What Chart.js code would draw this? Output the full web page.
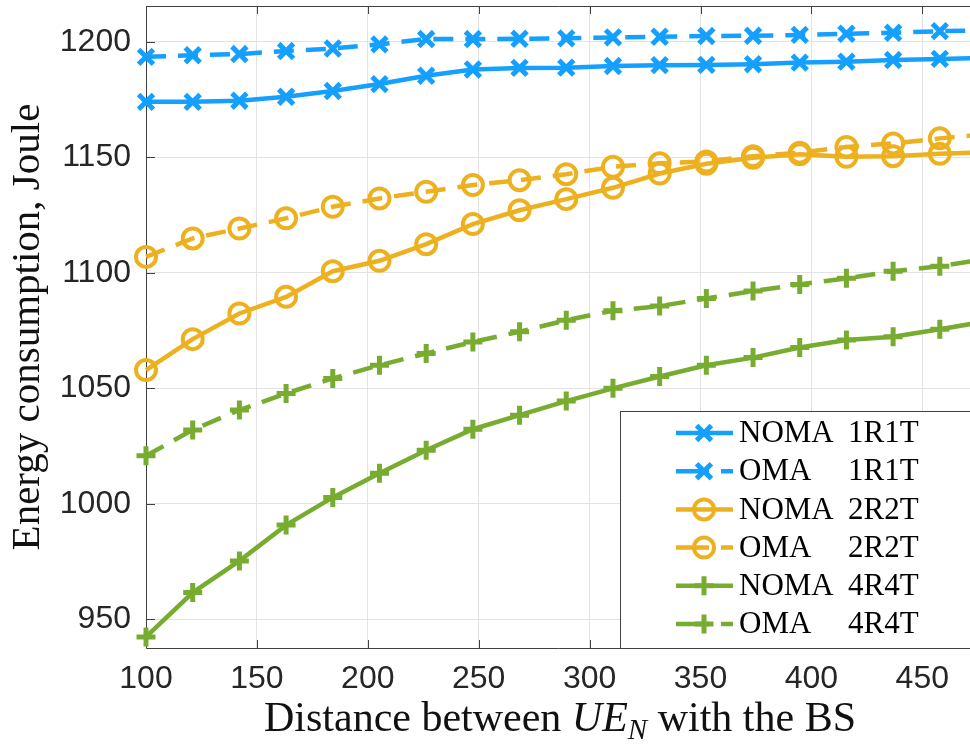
<!DOCTYPE html>
<html>
<head>
<meta charset="utf-8">
<script src="https://cdn.jsdelivr.net/npm/chart.js@4.4.1/dist/chart.umd.min.js"></script>
<style>
  html, body { margin: 0; padding: 0; background: #fff; }
  #wrap { width: 970px; height: 744px; }
</style>
</head>
<body>
<div id="wrap"><canvas id="chart" width="970" height="744"></canvas></div>
<script>
// DATA
const distances = [100, 121.05, 142.11, 163.16, 184.21, 205.26, 226.32, 247.37, 268.42, 289.47,
  310.53, 331.58, 352.63, 373.68, 394.74, 415.79, 436.84, 457.89, 478.95];
const noma1R1T = [1174.0, 1174.0, 1174.5, 1176.2, 1178.7, 1181.7, 1185.3, 1188.0, 1188.7, 1188.8,
  1189.5, 1189.9, 1190.0, 1190.3, 1191.0, 1191.4, 1192.1, 1192.6, 1193.0];
const oma1R1T = [1193.5, 1194.2, 1194.7, 1196.0, 1197.1, 1198.9, 1201.2, 1201.2, 1201.3, 1201.5,
  1201.9, 1202.2, 1202.5, 1202.6, 1203.0, 1203.5, 1203.9, 1204.6, 1205.0];
const noma2R2T = [1057.9, 1071.3, 1082.4, 1089.6, 1100.7, 1105.2, 1112.4, 1121.1, 1127.1, 1131.9,
  1136.8, 1143.0, 1147.2, 1149.8, 1151.3, 1150.2, 1150.5, 1151.5, 1152.2];
const oma2R2T = [1106.9, 1114.9, 1119.2, 1123.6, 1128.6, 1132.2, 1135.1, 1138.0, 1140.1, 1142.7,
  1145.9, 1147.4, 1148.2, 1150.5, 1152.0, 1154.5, 1156.0, 1158.2, 1160.0];
const noma4R4T = [942.4, 961.6, 975.3, 990.8, 1002.8, 1013.2, 1023.2, 1032.3, 1038.4, 1044.5,
  1050.0, 1055.1, 1060.0, 1063.3, 1067.7, 1070.9, 1072.3, 1075.6, 1079.0];
const oma4R4T = [1020.8, 1032.0, 1040.6, 1047.8, 1054.3, 1060.0, 1065.1, 1070.1, 1074.5, 1079.5,
  1083.6, 1085.6, 1088.9, 1092.1, 1095.0, 1097.6, 1100.7, 1102.9, 1106.0];

const seriesLabels = ['NOMA 1R1T', 'OMA   1R1T', 'NOMA 2R2T', 'OMA   2R2T', 'NOMA 4R4T', 'OMA   4R4T'];
const xTickValues = [100, 150, 200, 250, 300, 350, 400, 450];
const yTickValues = [950, 1000, 1050, 1100, 1150, 1200];
const xLimits = [100, 471.5];
const yLimits = [937.6, 1215.5];

// STYLE
const BLUE = '#159ffe';
const ORANGE = '#edb120';
const GREEN = '#77ac30';
const AXIS = '#404040';
const DASH = [20, 12];
const SERIF = '"Liberation Serif", "Times New Roman", serif';
const NO_PAD = () => ({ left: 0, top: 0, right: 0, bottom: 0 });

function makeSet(label, values, color, marker, dashed) {
  const radius = marker === 'circle' ? 10 : (marker === 'crossRot' ? 10.5 : 9.5);
  return {
    label: label,
    data: distances.map((x, i) => ({ x: x, y: values[i] })),
    borderColor: color,
    backgroundColor: 'rgba(0,0,0,0)',
    borderWidth: 4.5,
    borderDash: dashed ? DASH : [],
    pointStyle: marker,
    pointRadius: radius,
    pointBorderWidth: marker === 'circle' ? 4 : 5,
    pointBorderColor: color,
    pointBackgroundColor: 'rgba(0,0,0,0)',
    tension: 0,
    clip: false,
    _marker: marker,
    _dashed: dashed
  };
}

const datasets = [
  makeSet(seriesLabels[0], noma1R1T, BLUE, 'crossRot', false),
  makeSet(seriesLabels[1], oma1R1T, BLUE, 'crossRot', true),
  makeSet(seriesLabels[2], noma2R2T, ORANGE, 'circle', false),
  makeSet(seriesLabels[3], oma2R2T, ORANGE, 'circle', true),
  makeSet(seriesLabels[4], noma4R4T, GREEN, 'cross', false),
  makeSet(seriesLabels[5], oma4R4T, GREEN, 'cross', true)
];

// BOX, INWARD TICKS, AXIS TITLES, LEGEND
const decorPlugin = {
  id: 'decor',
  beforeDatasetsDraw(chart) {
    const ctx = chart.ctx;
    const a = chart.chartArea;
    const xs = chart.scales.x;
    const ys = chart.scales.y;
    ctx.save();
    ctx.strokeStyle = AXIS;
    ctx.lineWidth = 1;
    ctx.beginPath();
    ctx.moveTo(a.left + 0.5, a.top + 0.5);
    ctx.lineTo(a.right, a.top + 0.5);
    ctx.moveTo(a.left + 0.5, a.top);
    ctx.lineTo(a.left + 0.5, a.bottom + 0.5);
    ctx.lineTo(a.right, a.bottom + 0.5);
    xTickValues.forEach(v => {
      const px = Math.round(xs.getPixelForValue(v)) + 0.5;
      ctx.moveTo(px, a.bottom);
      ctx.lineTo(px, a.bottom - 8);
      ctx.moveTo(px, a.top);
      ctx.lineTo(px, a.top + 8);
    });
    yTickValues.forEach(v => {
      const py = Math.round(ys.getPixelForValue(v)) + 0.5;
      ctx.moveTo(a.left, py);
      ctx.lineTo(a.left + 9, py);
    });
    ctx.stroke();
    ctx.restore();
  },
  afterDraw(chart) {
    const ctx = chart.ctx;
    const a = chart.chartArea;
    ctx.save();

    // y title
    ctx.fillStyle = '#111';
    ctx.font = '41px ' + SERIF;
    ctx.textAlign = 'center';
    ctx.textBaseline = 'middle';
    ctx.translate(28, (a.top + a.bottom) / 2);
    ctx.rotate(-Math.PI / 2);
    ctx.fillText('Energy consumption, Joule', 0, 0);
    ctx.setTransform(1, 0, 0, 1, 0, 0);

    // x title with UE_N
    const parts = [
      { t: 'Distance between ', f: '42px ' + SERIF, dy: 0 },
      { t: 'UE', f: 'italic 42px ' + SERIF, dy: 0 },
      { t: 'N', f: 'italic 29px ' + SERIF, dy: 8 },
      { t: ' with the BS', f: '42px ' + SERIF, dy: 0 }
    ];
    let total = 0;
    parts.forEach(p => { ctx.font = p.f; p.w = ctx.measureText(p.t).width; total += p.w; });
    let cx = 560 - total / 2;
    ctx.textAlign = 'left';
    ctx.textBaseline = 'alphabetic';
    parts.forEach(p => {
      ctx.font = p.f;
      ctx.fillText(p.t, cx, 731 + p.dy);
      cx += p.w;
    });

    // legend
    const boxL = 620.5, boxT = 411.5;
    ctx.fillStyle = '#fff';
    ctx.fillRect(boxL, boxT, chart.width - boxL + 5, a.bottom - boxT);
    ctx.strokeStyle = AXIS;
    ctx.lineWidth = 1;
    ctx.strokeRect(boxL, boxT, chart.width - boxL + 5, a.bottom + 0.5 - boxT);

    chart.data.datasets.forEach((ds, i) => {
      const y = 433 + i * 38.2;
      ctx.strokeStyle = ds.borderColor;
      ctx.lineWidth = ds.borderWidth;
      ctx.setLineDash(ds._dashed ? [33, 12] : []);
      ctx.beginPath();
      ctx.moveTo(676, y);
      ctx.lineTo(733, y);
      ctx.stroke();
      ctx.setLineDash([]);
      ctx.fillStyle = 'rgba(0,0,0,0)';
      ctx.lineWidth = ds.pointBorderWidth;
      Chart.helpers.drawPoint(ctx, {
        pointStyle: ds._marker,
        radius: ds.pointRadius,
        rotation: 0,
        borderWidth: ds.pointBorderWidth
      }, 704, y);
      ctx.fillStyle = '#000';
      ctx.font = '31px ' + SERIF;
      ctx.textBaseline = 'middle';
      const words = ds.label.split(/\s+/);
      ctx.fillText(words[0], 739, y + 1);
      ctx.fillText(words[1], 848, y + 1);
    });
    ctx.restore();
  }
};

// CHART
const chart = new Chart(document.getElementById('chart'), {
  type: 'scatter',
  data: { datasets: datasets },
  plugins: [decorPlugin],
  options: {
    responsive: false,
    animation: false,
    showLine: true,
    layout: { autoPadding: false, padding: { top: 6, right: 0, left: 0, bottom: 0 } },
    plugins: { legend: { display: false }, tooltip: { enabled: false } },
    scales: {
      x: {
        type: 'linear',
        min: xLimits[0],
        max: xLimits[1],
        afterBuildTicks: s => { s.ticks = xTickValues.map(v => ({ value: v })); },
        afterFit: s => { s.height = 96; s.getPadding = NO_PAD; },
        grid: { color: '#e3e3e3', lineWidth: 1, drawTicks: false },
        border: { display: false },
        ticks: {
          padding: 12,
          color: '#262626',
          font: { family: '"Liberation Sans", Arial, sans-serif', size: 32 },
          maxRotation: 0,
          callback: v => String(v)
        }
      },
      y: {
        type: 'linear',
        min: yLimits[0],
        max: yLimits[1],
        afterBuildTicks: s => { s.ticks = yTickValues.map(v => ({ value: v })); },
        afterFit: s => { s.width = 146; s.getPadding = NO_PAD; },
        grid: { color: '#e3e3e3', lineWidth: 1, drawTicks: false },
        border: { display: false },
        ticks: {
          padding: 15,
          color: '#262626',
          font: { family: '"Liberation Sans", Arial, sans-serif', size: 32 },
          callback: v => String(v)
        }
      }
    }
  }
});
</script>
</body>
</html>
